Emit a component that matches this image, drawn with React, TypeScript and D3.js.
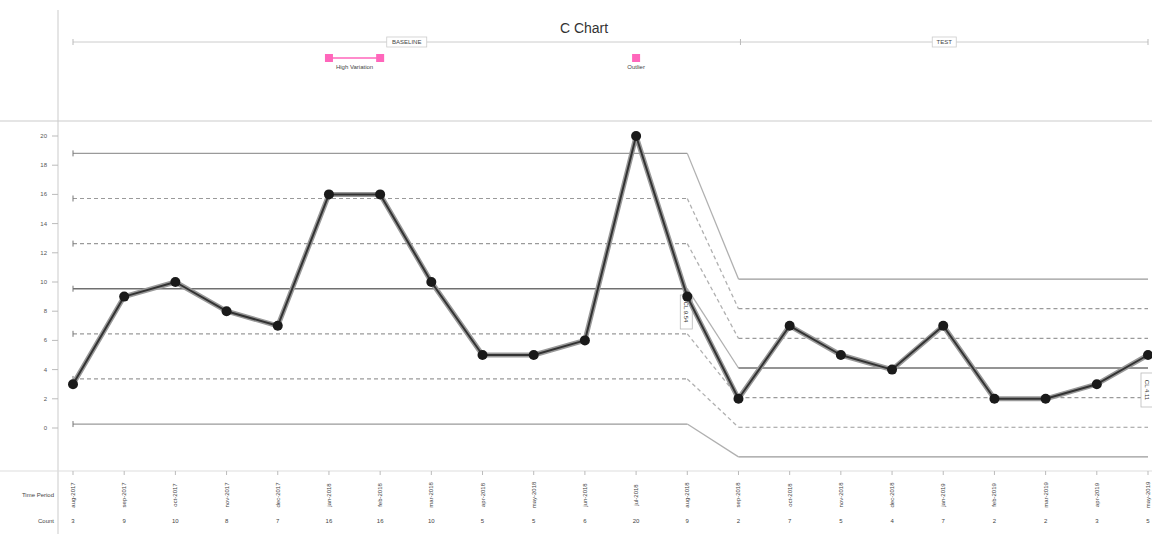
import React from "react";
import * as d3 from "d3";

const periods = [
  "aug-2017", "sep-2017", "oct-2017", "nov-2017", "dec-2017", "jan-2018", "feb-2018",
  "mar-2018", "apr-2018", "may-2018", "jun-2018", "jul-2018", "aug-2018",
  "sep-2018", "oct-2018", "nov-2018", "dec-2018", "jan-2019", "feb-2019", "mar-2019", "apr-2019", "may-2019",
];
const counts = [3, 9, 10, 8, 7, 16, 16, 10, 5, 5, 6, 20, 9, 2, 7, 5, 4, 7, 2, 2, 3, 5];
const phases = ["BASELINE", "TEST"];
const phaseStart = [0, 13];
const phaseEnd = [12, 21];
// centre line and sigma per phase (c chart)
const phaseCL = [9.54, 4.11];
const phaseSigma = [3.09, 2.03];
const sigmaLevels = [3, 2, 1, 0, -1, -2, -3];
const yTicks = [0, 2, 4, 6, 8, 10, 12, 14, 16, 18, 20];
const annotationRange = { label: "High Variation", from: 5, to: 6 };
const annotationPoint = { label: "Outlier", at: 11 };

export default function App() {
  const W = 1152, H = 534;
  const x = d3.scalePoint<number>().domain(d3.range(periods.length)).range([73, 1148]);
  const y = d3.scaleLinear().domain([0, 20]).range([428, 136]);
  const px = (i: number) => x(i) as number;
  const line = d3.line<number>().x((_, i) => px(i)).y((d) => y(d));
  const fs = "Liberation Sans, Arial, sans-serif";

  const limitLines = sigmaLevels.map((k) => {
    const vb = phaseCL[0] + k * phaseSigma[0];
    const vt = phaseCL[1] + k * phaseSigma[1];
    const dashed = Math.abs(k) === 1 || Math.abs(k) === 2;
    const col = k === 0 ? "#707070" : "#9a9a9a";
    const sw = k === 0 ? 1.6 : 1.2;
    const da = dashed ? "4,3" : undefined;
    return (
      <g key={k}>
        <line x1={px(phaseStart[0])} x2={px(phaseEnd[0])} y1={y(vb)} y2={y(vb)} stroke={col} strokeWidth={sw} strokeDasharray={da} />
        <line x1={px(phaseStart[0])} x2={px(phaseStart[0])} y1={y(vb) - 3} y2={y(vb) + 3} stroke="#777" strokeWidth={1} />
        <line x1={px(phaseEnd[0])} x2={px(phaseStart[1])} y1={y(vb)} y2={y(vt)} stroke="#b0b0b0" strokeWidth={1.3} strokeDasharray={da} />
        <line x1={px(phaseStart[1])} x2={px(phaseEnd[1])} y1={y(vt)} y2={y(vt)} stroke={col} strokeWidth={sw} strokeDasharray={da} />
      </g>
    );
  });

  const hvX1 = px(annotationRange.from), hvX2 = px(annotationRange.to);
  const phaseLineY = 42;
  const boundaries = [px(0), px(13) + 2, px(21)];

  return (
    <svg width={W} height={H} style={{ position: "absolute", left: 0, top: 0, background: "#fff" }} fontFamily={fs}>
      {/* frame lines */}
      <line x1={58} x2={58} y1={10} y2={534} stroke="#ddd" strokeWidth={1.5} />
      <line x1={0} x2={W} y1={121} y2={121} stroke="#ccc" strokeWidth={1.2} />
      <line x1={0} x2={W} y1={471} y2={471} stroke="#ddd" strokeWidth={1.2} />

      {/* title */}
      <text x={584} y={33} textAnchor="middle" fontSize={14} fill="#333">C Chart</text>

      {/* phase line */}
      <line x1={boundaries[0]} x2={boundaries[2]} y1={phaseLineY} y2={phaseLineY} stroke="#ccc" strokeWidth={1} />
      {boundaries.map((b, i) => (
        <line key={i} x1={b} x2={b} y1={phaseLineY - 3} y2={phaseLineY + 3} stroke="#bbb" strokeWidth={1} />
      ))}
      {phases.map((p, i) => {
        const cx = (boundaries[i] + boundaries[i + 1]) / 2;
        const w = p.length * 4 + 8;
        return (
          <g key={p}>
            <rect x={cx - w / 2} y={phaseLineY - 5} width={w} height={10} fill="#fff" stroke="#ccc" strokeWidth={0.8} />
            <text x={cx} y={phaseLineY + 2.3} textAnchor="middle" fontSize={6} fill="#444">{p}</text>
          </g>
        );
      })}

      {/* annotations */}
      <line x1={hvX1} x2={hvX2} y1={58} y2={58} stroke="#ff66bb" strokeWidth={1.5} />
      <rect x={hvX1 - 4} y={54} width={8} height={8} fill="#ff66bb" />
      <rect x={hvX2 - 4} y={54} width={8} height={8} fill="#ff66bb" />
      <text x={(hvX1 + hvX2) / 2} y={69} textAnchor="middle" fontSize={6} fill="#444">{annotationRange.label}</text>
      <rect x={px(annotationPoint.at) - 4} y={54} width={8} height={8} fill="#ff66bb" />
      <text x={px(annotationPoint.at)} y={69} textAnchor="middle" fontSize={6} fill="#444">{annotationPoint.label}</text>

      {/* y axis */}
      {yTicks.map((t) => (
        <g key={t}>
          <line x1={52} x2={58} y1={y(t)} y2={y(t)} stroke="#bbb" />
          <text x={47} y={y(t) + 2} textAnchor="end" fontSize={6} fill="#555">{t}</text>
        </g>
      ))}

      {/* limits */}
      {limitLines}

      {/* CL labels */}
      <g transform={`translate(${px(12) - 1},${312}) rotate(90)`}>
        <rect x={-17} y={-6} width={34} height={12} fill="#fff" stroke="#bbb" strokeWidth={0.8} />
        <text x={0} y={2.2} textAnchor="middle" fontSize={6} fill="#333">{`CL ${phaseCL[0].toFixed(2)}`}</text>
      </g>
      <g transform={`translate(${W - 5},${390}) rotate(90)`}>
        <rect x={-17} y={-6} width={34} height={12} fill="#fff" stroke="#bbb" strokeWidth={0.8} />
        <text x={0} y={2.2} textAnchor="middle" fontSize={6} fill="#333">{`CL ${phaseCL[1].toFixed(2)}`}</text>
      </g>

      {/* data line */}
      <path d={line(counts) || ""} fill="none" stroke="#9a9a9a" strokeWidth={5} strokeLinejoin="round" />
      <path d={line(counts) || ""} fill="none" stroke="#333" strokeWidth={2} strokeLinejoin="round" />
      {counts.map((c, i) => (
        <circle key={i} cx={px(i)} cy={y(c)} r={5} fill="#1a1a1a" />
      ))}

      {/* bottom table */}
      <text x={54} y={497} textAnchor="end" fontSize={6} fill="#444">Time Period</text>
      <text x={54} y={523} textAnchor="end" fontSize={6} fill="#444">Count</text>
      {periods.map((p, i) => (
        <g key={p}>
          <line x1={px(i)} x2={px(i)} y1={471} y2={475} stroke="#bbb" />
          <text transform={`translate(${px(i) + 2},${495}) rotate(-90)`} textAnchor="middle" fontSize={6} fill="#444">{p}</text>
          <text x={px(i)} y={523} textAnchor="middle" fontSize={6} fill="#444">{counts[i]}</text>
        </g>
      ))}
    </svg>
  );
}
